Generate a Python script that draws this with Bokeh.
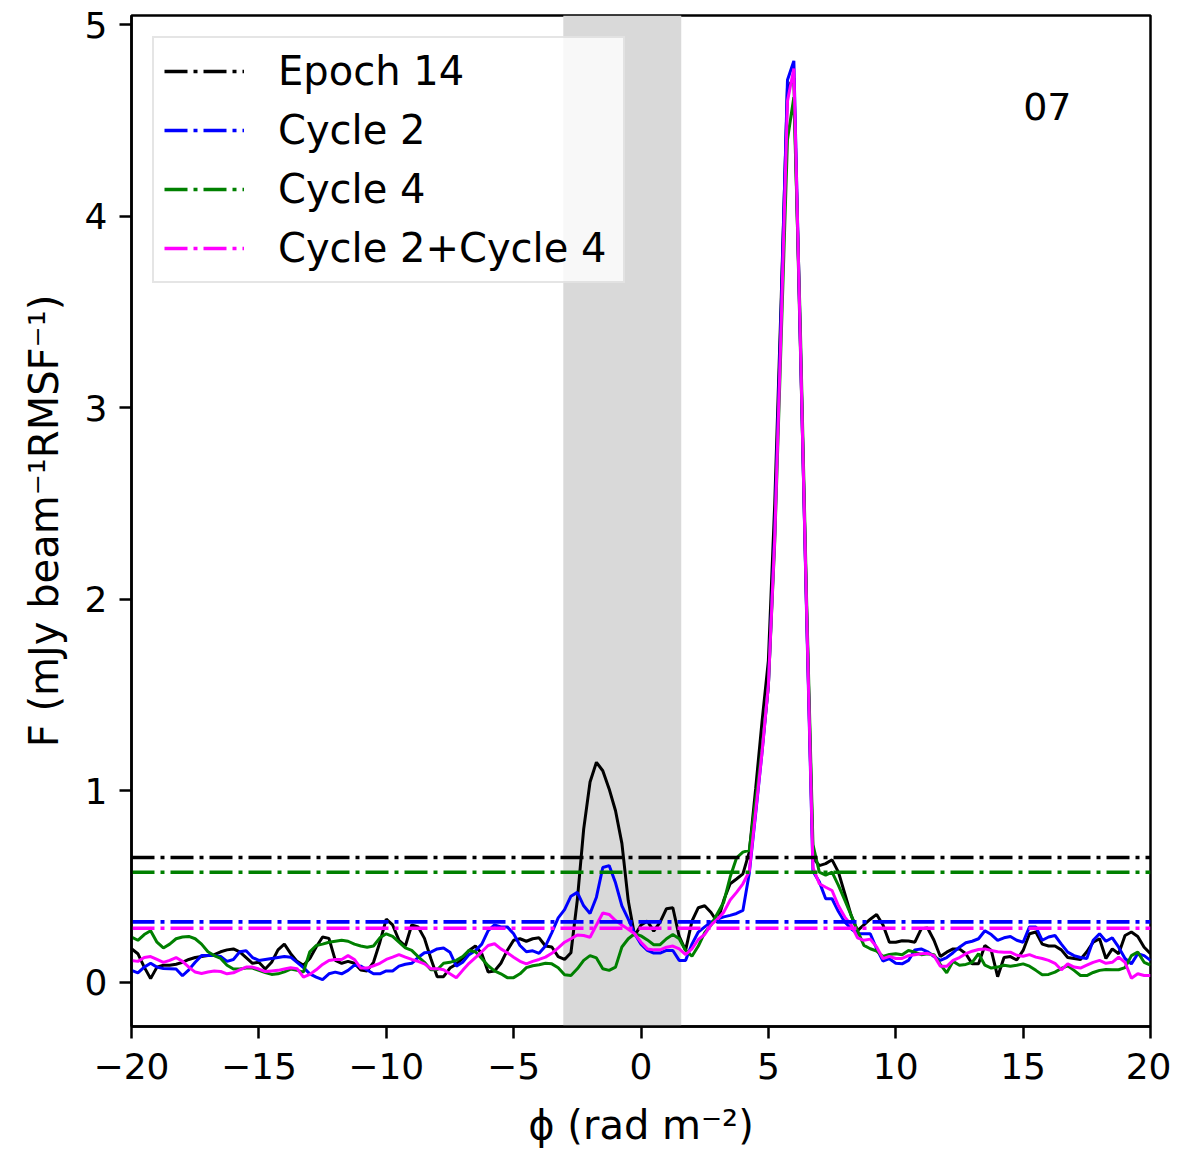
import numpy as np
from bokeh.plotting import figure
from bokeh.models import Range1d, FixedTicker, BoxAnnotation, Legend
from bokeh.core.properties import value
from bokeh.embed import file_html
from bokeh.resources import INLINE

# Faraday depth grid (rad m^-2), 0.25 spacing
phi = np.linspace(-20, 20, 161)

# Epoch 14 (black)
epoch14 = [
    0.176, 0.15, 0.08, 0.02,
    0.08, 0.09, 0.09, 0.095,
    0.105, 0.12, 0.13, 0.135,
    0.14, 0.145, 0.16, 0.17,
    0.175, 0.16, 0.13, 0.10,
    0.105, 0.07, 0.105, 0.17,
    0.20, 0.15, 0.11, 0.09,
    0.125, 0.185, 0.237, 0.23,
    0.115, 0.10, 0.11, 0.10,
    0.065, 0.06, 0.105, 0.21,
    0.33, 0.30, 0.22, 0.19,
    0.30, 0.29, 0.23, 0.125,
    0.03, 0.03, 0.075, 0.095,
    0.125, 0.167, 0.19, 0.15,
    0.055, 0.06, 0.10, 0.167,
    0.22, 0.228, 0.215, 0.228,
    0.233, 0.19, 0.185, 0.135,
    0.12, 0.155, 0.43, 0.80,
    1.046, 1.149, 1.105, 1.01,
    0.896, 0.726, 0.426, 0.244,
    0.30, 0.32, 0.268, 0.315,
    0.385, 0.39, 0.24, 0.167,
    0.32, 0.39, 0.40, 0.365,
    0.315, 0.43, 0.515, 0.54,
    0.567, 0.68, 1.01, 1.36,
    1.68, 2.5, 3.55, 4.67,
    4.72, 3.35, 1.95, 0.65,
    0.61, 0.62, 0.64, 0.576,
    0.463, 0.35, 0.27, 0.30,
    0.33, 0.355, 0.30, 0.21,
    0.21, 0.218, 0.216, 0.21,
    0.28, 0.284, 0.22, 0.135,
    0.158, 0.175, 0.175, 0.15,
    0.097, 0.097, 0.193, 0.167,
    0.03, 0.13, 0.135, 0.117,
    0.167, 0.254, 0.263, 0.20,
    0.19, 0.19, 0.17, 0.13,
    0.125, 0.12, 0.16, 0.21,
    0.228, 0.125, 0.175, 0.15,
    0.245, 0.263, 0.24, 0.184,
    0.15,
]

# Cycle 2 (blue)
cycle2 = [
    0.063, 0.05, 0.08, 0.10,
    0.08, 0.073, 0.072, 0.07,
    0.035, 0.066, 0.105, 0.14,
    0.14, 0.14, 0.135, 0.11,
    0.12, 0.16, 0.165, 0.13,
    0.115, 0.12, 0.125, 0.13,
    0.135, 0.132, 0.105, 0.077,
    0.045, 0.028, 0.015, 0.045,
    0.054, 0.045, 0.063, 0.09,
    0.085, 0.065, 0.045, 0.045,
    0.06, 0.06, 0.085, 0.095,
    0.10, 0.13, 0.155, 0.158,
    0.175, 0.18, 0.158, 0.085,
    0.105, 0.145, 0.165, 0.20,
    0.27, 0.30, 0.29, 0.29,
    0.254, 0.193, 0.16, 0.165,
    0.152, 0.19, 0.26, 0.337,
    0.38, 0.45, 0.47, 0.40,
    0.36, 0.445, 0.60, 0.61,
    0.52, 0.40, 0.33, 0.254,
    0.20, 0.167, 0.153, 0.153,
    0.167, 0.167, 0.115, 0.115,
    0.20, 0.263, 0.29, 0.315,
    0.33, 0.342, 0.35, 0.36,
    0.376, 0.57, 0.88, 1.2,
    1.55, 2.35, 3.5, 4.71,
    4.81, 3.38, 1.92, 0.58,
    0.525, 0.437, 0.437, 0.37,
    0.315, 0.28, 0.254, 0.254,
    0.254, 0.176, 0.112, 0.124,
    0.10, 0.097, 0.115, 0.17,
    0.175, 0.16, 0.135, 0.115,
    0.13, 0.155, 0.184, 0.207,
    0.215, 0.228, 0.27, 0.25,
    0.22, 0.233, 0.24, 0.22,
    0.21, 0.29, 0.29, 0.22,
    0.237, 0.245, 0.20, 0.158,
    0.14, 0.13, 0.125, 0.22,
    0.254, 0.215, 0.233, 0.184,
    0.125, 0.097, 0.15, 0.14,
    0.115,
]

# Cycle 4 (green)
cycle4 = [
    0.237, 0.22, 0.25, 0.27,
    0.21, 0.18, 0.20, 0.228,
    0.237, 0.24, 0.228, 0.20,
    0.16, 0.14, 0.125, 0.09,
    0.07, 0.07, 0.075, 0.075,
    0.063, 0.052, 0.042, 0.045,
    0.055, 0.07, 0.063, 0.054,
    0.16, 0.193, 0.20, 0.21,
    0.215, 0.22, 0.215, 0.20,
    0.19, 0.184, 0.19, 0.233,
    0.254, 0.24, 0.21, 0.18,
    0.167, 0.135, 0.105, 0.066,
    0.066, 0.10, 0.105, 0.115,
    0.135, 0.167, 0.16, 0.125,
    0.087, 0.06, 0.045, 0.025,
    0.025, 0.045, 0.077, 0.087,
    0.092, 0.10, 0.097, 0.077,
    0.04, 0.036, 0.071, 0.115,
    0.14, 0.128, 0.071, 0.063,
    0.08, 0.185, 0.228, 0.254,
    0.243, 0.222, 0.197, 0.197,
    0.228, 0.25, 0.228, 0.167,
    0.137, 0.19, 0.26, 0.30,
    0.36, 0.42, 0.55, 0.65,
    0.68, 0.69, 0.95, 1.22,
    1.55, 2.3, 3.35, 4.4,
    4.62, 3.45, 2.0, 0.72,
    0.576, 0.56, 0.576, 0.507,
    0.43, 0.35, 0.27, 0.193,
    0.176, 0.164, 0.136, 0.146,
    0.15, 0.145, 0.167, 0.158,
    0.145, 0.15, 0.145, 0.094,
    0.05, 0.11, 0.09, 0.094,
    0.105, 0.15, 0.09, 0.075,
    0.08, 0.09, 0.085, 0.09,
    0.097, 0.085, 0.063, 0.04,
    0.042, 0.054, 0.073, 0.087,
    0.063, 0.036, 0.036, 0.052,
    0.063, 0.068, 0.066, 0.066,
    0.077, 0.14, 0.158, 0.105,
    0.09,
]

# Cycle 2 + Cycle 4 (magenta)
cycle24 = [
    0.115, 0.11, 0.13, 0.135,
    0.12, 0.105, 0.115, 0.13,
    0.11, 0.08, 0.054, 0.047,
    0.054, 0.06, 0.057, 0.045,
    0.05, 0.066, 0.08, 0.08,
    0.07, 0.057, 0.06, 0.063,
    0.07, 0.077, 0.072, 0.028,
    0.042, 0.066, 0.094, 0.115,
    0.12, 0.12, 0.14, 0.12,
    0.075, 0.075, 0.087, 0.10,
    0.12, 0.132, 0.145, 0.132,
    0.12, 0.11, 0.097, 0.072,
    0.072, 0.066, 0.045, 0.024,
    0.063, 0.10, 0.13, 0.16,
    0.193, 0.202, 0.175, 0.155,
    0.132, 0.11, 0.097, 0.11,
    0.12, 0.132, 0.152, 0.18,
    0.21, 0.228, 0.248, 0.245,
    0.236, 0.30, 0.362, 0.355,
    0.323, 0.30, 0.278, 0.254,
    0.21, 0.175, 0.17, 0.17,
    0.184, 0.19, 0.175, 0.145,
    0.175, 0.224, 0.25, 0.30,
    0.33, 0.367, 0.43, 0.47,
    0.515, 0.58, 0.89, 1.2,
    1.55, 2.32, 3.42, 4.6,
    4.77, 3.38, 1.95, 0.6,
    0.515, 0.497, 0.48, 0.40,
    0.341, 0.30, 0.233, 0.22,
    0.226, 0.185, 0.124, 0.136,
    0.125, 0.125, 0.14, 0.145,
    0.15, 0.152, 0.14, 0.085,
    0.084, 0.115, 0.13, 0.15,
    0.163, 0.172, 0.175, 0.167,
    0.16, 0.158, 0.158, 0.142,
    0.137, 0.145, 0.132, 0.125,
    0.115, 0.10, 0.066, 0.097,
    0.08, 0.075, 0.09, 0.105,
    0.115, 0.10, 0.105, 0.132,
    0.105, 0.022, 0.045, 0.036,
    0.036,
]

series_names = ["Epoch 14", "Cycle 2", "Cycle 4", "Cycle 2+Cycle 4"]
series_colors = ["black", "#0000ff", "#008000", "#ff00ff"]
series_values = [epoch14, cycle2, cycle4, cycle24]
# threshold levels (dash-dot lines), same order as series_names
thresholds = [0.652, 0.316, 0.575, 0.283]

# shaded band
band = [-3.05, 1.58]

XLIM = [-20, 20]
YLIM = [-0.23, 5.047]
xticks = [-20, -15, -10, -5, 0, 5, 10, 15, 20]
xtick_labels = ["\u221220", "\u221215", "\u221210", "\u22125", "0", "5", "10", "15", "20"]
yticks = [0, 1, 2, 3, 4, 5]
ytick_labels = ["0", "1", "2", "3", "4", "5"]

panel_label = "07"
panel_label_pos = (15, 4.57)

FONT = "DejaVu Sans"

p = figure(
    frame_width=1019, frame_height=1011,
    min_border_left=131, min_border_top=15, min_border_right=21, min_border_bottom=120,
    x_range=Range1d(*XLIM), y_range=Range1d(*YLIM),
    output_backend="svg", toolbar_location=None,
    background_fill_color="white", border_fill_color="white",
)
p.grid.visible = False
p.outline_line_color = "black"
p.outline_line_width = 2.5

# shaded region
p.add_layout(BoxAnnotation(left=band[0], right=band[1], fill_color="#d9d9d9",
                           fill_alpha=1.0, line_color=None, level="underlay"))

# curves
for vals, col in zip(series_values, series_colors):
    p.line(phi, vals, line_color=col, line_width=3.0)

# threshold lines (with legend)
legend_items = []
for name, col, lvl in zip(series_names, series_colors, thresholds):
    r = p.line(XLIM, [lvl, lvl], line_color=col, line_width=3.6, line_dash="23 6 4 6")
    legend_items.append((name, [r]))

p.text(x=[panel_label_pos[0]], y=[panel_label_pos[1]], text=[panel_label],
       text_font=value(FONT), text_font_size="38px", text_color="black",
       text_align="left", text_baseline="middle")

legend = Legend(items=legend_items, location="top_left")
legend.margin = 21
legend.padding = 10
legend.spacing = 13
legend.glyph_width = 80
legend.glyph_height = 40
legend.label_height = 40
legend.label_width = 335
legend.label_standoff = 34
legend.label_text_font = FONT
legend.label_text_font_size = "40px"
legend.label_text_color = "black"
legend.border_line_color = "#cccccc"
legend.border_line_width = 2.5
legend.background_fill_color = "white"
legend.background_fill_alpha = 0.8
p.add_layout(legend)

# axes
p.xaxis.ticker = FixedTicker(ticks=xticks)
p.xaxis.major_label_overrides = {t: l for t, l in zip(xticks, xtick_labels)}
p.yaxis.ticker = FixedTicker(ticks=yticks)
p.yaxis.major_label_overrides = {t: l for t, l in zip(yticks, ytick_labels)}

for ax in (p.xaxis, p.yaxis):
    ax.axis_line_width = 2.5
    ax.axis_line_color = "black"
    ax.major_tick_line_width = 2.5
    ax.major_tick_line_color = "black"
    ax.major_tick_out = 12
    ax.major_tick_in = 0
    ax.minor_tick_line_color = None
    ax.major_label_text_font = FONT
    ax.major_label_text_font_size = "36px"
    ax.major_label_text_color = "black"
    ax.axis_label_text_font = FONT
    ax.axis_label_text_font_size = "40px"
    ax.axis_label_text_font_style = "normal"
    ax.axis_label_text_color = "black"

p.xaxis.axis_label = "\u03d5 (rad m\u207b\u00b2)"
p.yaxis.axis_label = "F (mJy beam\u207b\u00b9RMSF\u207b\u00b9)"
p.xaxis.major_label_standoff = 14
p.yaxis.major_label_standoff = 12
p.xaxis.axis_label_standoff = 20
p.yaxis.axis_label_standoff = 15

open("out.html", "w").write(file_html(p, INLINE))
